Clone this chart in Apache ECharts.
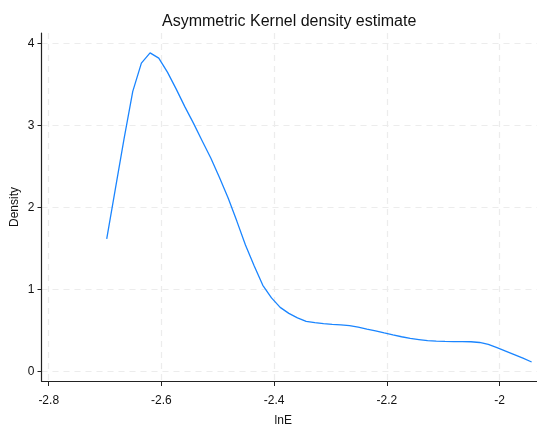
<!DOCTYPE html>
<html>
<head>
<meta charset="utf-8">
<script src="https://cdn.jsdelivr.net/npm/echarts@6/dist/echarts.min.js"></script>
<style>
  html, body { margin: 0; padding: 0; background: #fff; }
  #chart { width: 537px; height: 427px; }
</style>
</head>
<body>
<div id="chart"></div>
<script>
// kernel density evaluation points (lnE) and estimated density
const lnE = [
  -2.6971, -2.6817, -2.6663, -2.6509, -2.6356, -2.6202, -2.6048, -2.5894, -2.5740, -2.5586,
  -2.5433, -2.5279, -2.5125, -2.4971, -2.4817, -2.4663, -2.4510, -2.4356, -2.4202, -2.4048,
  -2.3894, -2.3740, -2.3587, -2.3433, -2.3279, -2.3125, -2.2971, -2.2817, -2.2664, -2.2510,
  -2.2356, -2.2202, -2.2048, -2.1894, -2.1741, -2.1587, -2.1433, -2.1279, -2.1125, -2.0971,
  -2.0818, -2.0664, -2.0510, -2.0356, -2.0202, -2.0048, -1.9895, -1.9741, -1.9587, -1.9433
];
const density = [
  1.619, 2.230, 2.840, 3.418, 3.763, 3.888, 3.824, 3.653, 3.448, 3.232,
  3.030, 2.816, 2.605, 2.368, 2.118, 1.835, 1.543, 1.291, 1.051, 0.898,
  0.782, 0.709, 0.654, 0.611, 0.595, 0.583, 0.574, 0.568, 0.560, 0.541,
  0.517, 0.495, 0.470, 0.446, 0.424, 0.404, 0.390, 0.376, 0.370, 0.367,
  0.365, 0.364, 0.363, 0.354, 0.330, 0.290, 0.248, 0.205, 0.162, 0.116
];
const xTicks = [-2.8, -2.6, -2.4, -2.2, -2];
const yTicks = [0, 1, 2, 3, 4];

const font = "'Liberation Sans', Arial, sans-serif";

const points = lnE.map((x, i) => [x, density[i]]);

const gridLine = {
  show: true,
  lineStyle: { color: '#ececec', width: 1.2, type: [6, 5] }
};

const option = {
  backgroundColor: '#fff',
  animation: false,
  title: {
    text: 'Asymmetric Kernel density estimate',
    left: 157,
    top: 9,
    textStyle: { fontFamily: font, fontSize: 16, fontWeight: 'normal', color: '#111' }
  },
  grid: { left: 41.5, right: 0, top: 33, bottom: 46, outerBoundsMode: 'none' },
  xAxis: {
    type: 'value',
    min: -2.8128,
    max: -1.9338,
    name: 'lnE',
    nameLocation: 'middle',
    nameGap: 34,
    nameMoveOverlap: false,
    nameTextStyle: { fontFamily: font, fontSize: 12, color: '#111', padding: [0, 12, 0, 0] },
    axisLine: { show: true, onZero: false, lineStyle: { color: '#222', width: 1.2 } },
    axisTick: { show: true, length: 5, customValues: xTicks, lineStyle: { color: '#222', width: 1 } },
    axisLabel: { customValues: xTicks, margin: 14, fontFamily: font, fontSize: 12, color: '#111' },
    splitLine: gridLine
  },
  yAxis: {
    type: 'value',
    min: -0.116,
    max: 4.13,
    name: 'Density',
    nameLocation: 'middle',
    nameGap: 21,
    nameMoveOverlap: false,
    nameTextStyle: { fontFamily: font, fontSize: 12, color: '#111' },
    axisLine: { show: true, onZero: false, lineStyle: { color: '#222', width: 1.2 } },
    axisTick: { show: true, length: 4, customValues: yTicks, lineStyle: { color: '#222', width: 1 } },
    axisLabel: { customValues: yTicks, margin: 7, fontFamily: font, fontSize: 12, color: '#111' },
    splitLine: gridLine
  },
  series: [{
    type: 'line',
    data: points,
    showSymbol: false,
    smooth: false,
    lineStyle: { color: '#1a85ff', width: 1.3 }
  }]
};

const chart = echarts.init(document.getElementById('chart'));
chart.setOption(option);
</script>
</body>
</html>
